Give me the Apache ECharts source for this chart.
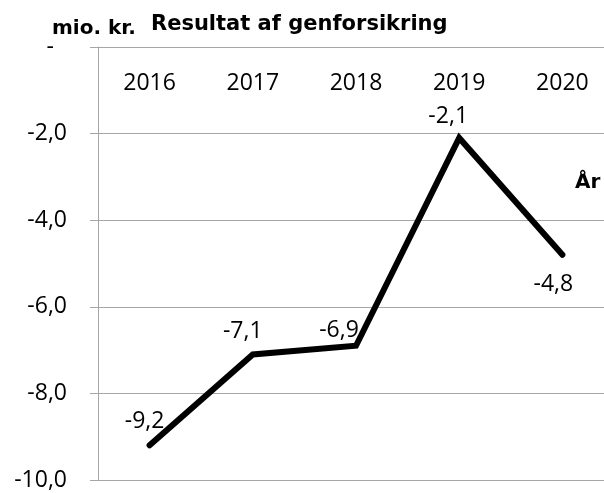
<!DOCTYPE html>
<html>
<head>
<meta charset="utf-8">
<script src="https://cdn.jsdelivr.net/npm/echarts@6/dist/echarts.min.js"></script>
<style>
  html, body { margin: 0; padding: 0; background: #fff; }
  #chart { width: 604px; height: 493px; }
</style>
</head>
<body>
<div id="chart"></div>
<script>
// data
var years = ['2016', '2017', '2018', '2019', '2020'];
var result = [-9.2, -7.1, -6.9, -2.1, -4.8];
// label shift from each point (px), like the excel placement
var labelOffset = [[-5, -24], [-10, -23], [-17, -15], [-11, -21], [-9, 30]];

var chart = echarts.init(document.getElementById('chart'));
var lblFont = '"Open Sans", sans-serif';
var boldFont = '"DejaVu Sans", Verdana, sans-serif';
var gray = '#a6a6a6';

var pts = result.map(function (v, i) {
    return {
        value: v,
        label: { offset: labelOffset[i] }
    };
});

chart.setOption({
    animation: false,
    // grid runs past the right edge, like the cropped original
    grid: { left: 98, top: 47, width: 516, height: 433, outerBoundsMode: 'none' },
    graphic: [
        { type: 'text', left: 52, top: 19, style: { text: 'mio. kr.', font: 'bold 20px ' + boldFont, fill: '#000' } },
        { type: 'text', left: 151, top: 14, style: { text: 'Resultat af genforsikring', font: 'bold 21px ' + boldFont, fill: '#000' } },
        { type: 'text', left: 575, top: 173, style: { text: 'År', font: 'bold 20px ' + boldFont, fill: '#000' } }
    ],
    xAxis: {
        type: 'category',
        data: years,
        position: 'top',
        boundaryGap: true,
        axisLine: { lineStyle: { color: gray, width: 1 } },
        axisTick: { inside: true, length: 7, lineStyle: { color: gray } },
        axisLabel: { inside: true, margin: 25, color: '#000', fontSize: 23, fontFamily: lblFont },
        splitLine: { show: false }
    },
    yAxis: {
        type: 'value',
        min: -10,
        max: 0,
        interval: 2,
        axisLine: { show: true, lineStyle: { color: gray, width: 1 } },
        axisTick: { show: true, length: 8, lineStyle: { color: gray } },
        splitLine: { lineStyle: { color: gray, width: 1 } },
        axisLabel: {
            margin: 31,
            color: '#000',
            fontSize: 23,
            fontFamily: lblFont,
            formatter: function (v) {
                if (v === 0) return '{z|-}';
                return v.toFixed(1).replace('.', ',');
            },
            rich: { z: { fontSize: 23, fontFamily: lblFont, padding: [0, 13, 0, 0] } }
        }
    },
    series: [{
        type: 'line',
        data: pts,
        showSymbol: true,
        symbol: 'circle',
        symbolSize: 0,
        lineStyle: { color: '#000', width: 6, cap: 'round', join: 'miter' },
        label: {
            show: true,
            position: [0, 0],
            align: 'center',
            verticalAlign: 'middle',
            color: '#000',
            fontSize: 23,
            fontFamily: lblFont,
            formatter: function (p) { return p.value.toFixed(1).replace('.', ','); }
        }
    }]
});
</script>
</body>
</html>
